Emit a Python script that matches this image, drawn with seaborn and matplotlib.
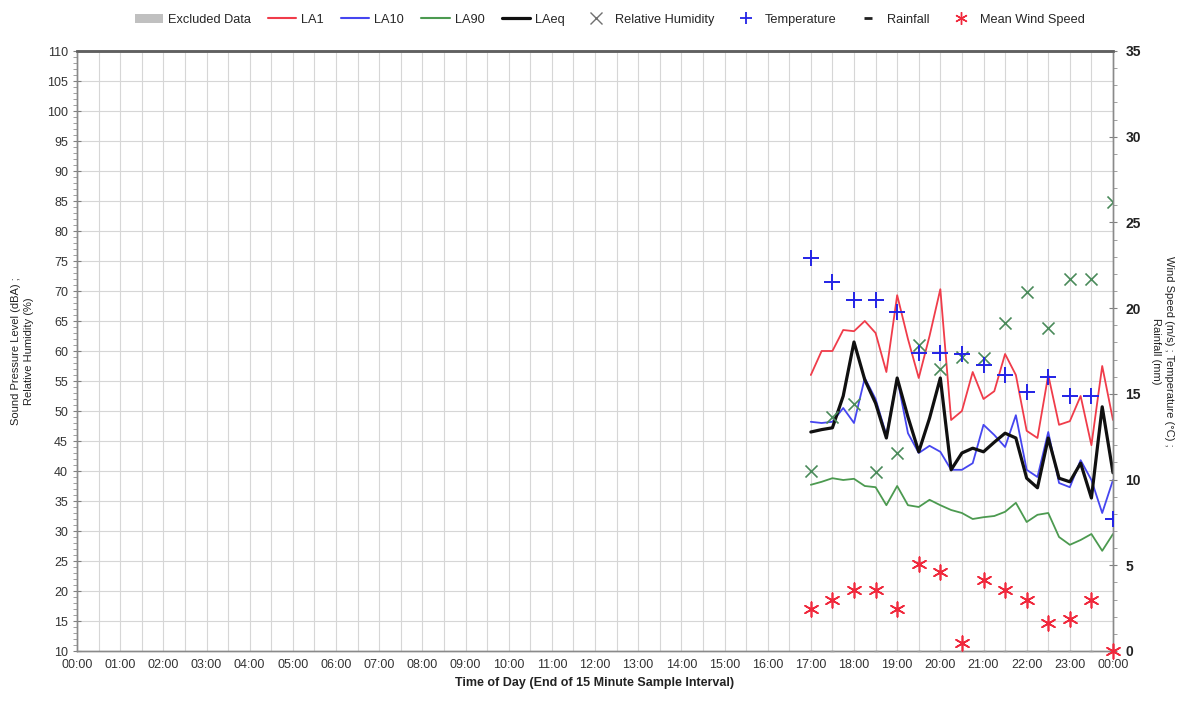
import numpy as np
import pandas as pd
import matplotlib
matplotlib.use("Agg")
import matplotlib.pyplot as plt
import seaborn as sns
from matplotlib.lines import Line2D
from matplotlib.patches import Patch
from matplotlib.ticker import MultipleLocator, FixedLocator

# ---------------- data ----------------
# 15-minute interval end times (hours), 17:00 -> 24:00
time_15 = [17 + 0.25 * i for i in range(29)]
la1 = [56, 60, 60, 63.5, 63.3, 65, 63, 56.5, 69.3, 62, 55.5, 62.5, 70.3, 48.5, 50,
       56.5, 52, 53.3, 59.5, 56, 46.7, 45.5, 56, 47.7, 48.3, 52.5, 44.3, 57.5, 48.5]
la10 = [48.2, 48, 48.2, 50.5, 48, 55.5, 52, 46, 55.5, 46.3, 43, 44.2, 43.2, 40.2, 40.2,
        41.3, 47.7, 46, 44, 49.3, 40.2, 39, 46.5, 38, 37.3, 41.8, 38.5, 33, 38.5]
la90 = [37.7, 38.2, 38.8, 38.5, 38.7, 37.5, 37.3, 34.3, 37.5, 34.3, 34, 35.2, 34.3, 33.5, 33,
        32, 32.3, 32.5, 33.2, 34.7, 31.5, 32.7, 33, 29, 27.7, 28.5, 29.5, 26.7, 29.5]
laeq = [46.5, 46.9, 47.2, 52.5, 61.5, 55.2, 51.3, 45.5, 55.5, 49, 43.2, 48.8, 55.5, 40.2, 43,
        43.8, 43.2, 44.8, 46.3, 45.5, 38.8, 37.2, 45.5, 38.8, 38.2, 41.3, 35.5, 50.7, 39.7]

# 30-minute weather observations
time_30 = [17 + 0.5 * i for i in range(15)]
rel_humidity = [40, 49, 51.2, 39.8, 43, 61, 57, 59, 58.8, 64.7, 69.8, 63.8, 72, 72, 84.8]
temperature = [22.9, 21.5, 20.5, 20.5, 19.8, 17.4, 17.4, 17.3, 16.7, 16.1, 15.1, 16.0, 14.9, 14.9, 7.7]
rainfall = [0] * 15
wind_speed = [2.45, 3.0, 3.56, 3.56, 2.45, 5.1, 4.6, 0.47, 4.14, 3.56, 3.0, 1.63, 1.87, 3.0, 0.0]

hour_labels = [f"{h % 24:02d}:00" for h in range(25)]

noise = pd.DataFrame({"t": time_15, "LA1": la1, "LA10": la10, "LA90": la90, "LAeq": laeq})
weather = pd.DataFrame({"t": time_30, "RH": rel_humidity, "Temp": temperature,
                        "Rain": rainfall, "Wind": wind_speed})

# ---------------- style ----------------
sns.set_theme(style="white")
plt.rcParams["font.family"] = ["Liberation Sans", "DejaVu Sans"]

c_la1 = "#f03c4a"
c_la10 = "#4646f0"
c_la90 = "#4c9a50"
c_laeq = "#101010"
c_rh = "#4a8a5a"
c_temp = "#2323e6"
c_wind = "#f0283c"
grid_c = "#d6d6d6"

fig = plt.figure(figsize=(11.89, 7.11), dpi=100)
ax = fig.add_axes([77 / 1189, 1 - 651 / 711, (1113 - 77) / 1189, 600 / 711])
ax2 = ax.twinx()

# noise lines
sns.lineplot(data=noise, x="t", y="LA1", ax=ax, color=c_la1, lw=1.3)
sns.lineplot(data=noise, x="t", y="LA10", ax=ax, color=c_la10, lw=1.3)
sns.lineplot(data=noise, x="t", y="LA90", ax=ax, color=c_la90, lw=1.3)
sns.lineplot(data=noise, x="t", y="LAeq", ax=ax, color=c_laeq, lw=2.3)
sns.scatterplot(data=weather, x="t", y="RH", ax=ax, marker="x", color=c_rh, s=75,
                linewidth=1.2, zorder=5)

# right axis weather
sns.scatterplot(data=weather, x="t", y="Temp", ax=ax2, marker="+", color=c_temp, s=130,
                linewidth=1.4, zorder=5)
sns.scatterplot(data=weather, x="t", y="Rain", ax=ax2, marker="_", color="#9a9a9a", s=12,
                linewidth=1.0, zorder=4, clip_on=False)
sns.scatterplot(data=weather, x="t", y="Wind", ax=ax2, marker=(6, 2, 0), color=c_wind, s=110,
                linewidth=1.2, zorder=5, clip_on=False)

# axes limits & ticks
ax.set_xlim(0, 24)
ax.set_ylim(10, 110)
ax2.set_ylim(0, 35)
ax.xaxis.set_major_locator(FixedLocator(list(range(25))))
ax.set_xticklabels(hour_labels)
ax.xaxis.set_minor_locator(MultipleLocator(0.25))
ax.yaxis.set_major_locator(MultipleLocator(5))
ax.yaxis.set_minor_locator(MultipleLocator(1))
ax2.yaxis.set_major_locator(MultipleLocator(5))
ax2.yaxis.set_minor_locator(MultipleLocator(1))

# grid
for x in np.arange(0.5, 24, 0.5):
    ax.axvline(x, color=grid_c, lw=0.8, zorder=0)
for y in range(15, 110, 5):
    ax.axhline(y, color=grid_c, lw=0.8, zorder=0)
ax.set_axisbelow(True)

ax.tick_params(axis="both", which="major", direction="inout", length=6, width=0.8,
               color="#808080", labelsize=9, labelcolor="#333333")
ax.tick_params(axis="both", which="minor", direction="out", length=3, width=0.6, color="#909090")
ax.tick_params(axis="x", pad=3)
ax2.tick_params(axis="y", which="major", direction="inout", length=6, width=0.8,
                color="#808080", labelsize=10, labelcolor="#222222", pad=6)
ax2.tick_params(axis="y", which="minor", direction="out", length=3, width=0.6, color="#909090")
for lbl in ax2.get_yticklabels():
    lbl.set_fontweight("bold")

for a in (ax, ax2):
    for side in ("left", "right", "bottom"):
        a.spines[side].set_color("#8a8a8a")
        a.spines[side].set_linewidth(1.0)
    a.spines["top"].set_color("#606060")
    a.spines["top"].set_linewidth(1.8)

ax.set_xlabel("Time of Day (End of 15 Minute Sample Interval)", fontsize=9,
              fontweight="bold", color="#222222", labelpad=4)
ax.set_ylabel("Sound Pressure Level (dBA) ;\nRelative Humidity (%)", fontsize=8,
              color="#222222", labelpad=9, linespacing=1.4)
ax2.set_ylabel("Wind Speed (m/s) ; Temperature (°C) ;\nRainfall (mm)", fontsize=8,
               color="#222222", rotation=270, labelpad=24, linespacing=1.4)

# legend
handles = [
    Patch(facecolor="#c0c0c0", edgecolor="none", label="Excluded Data"),
    Line2D([], [], color=c_la1, lw=1.5, label="LA1"),
    Line2D([], [], color=c_la10, lw=1.5, label="LA10"),
    Line2D([], [], color=c_la90, lw=1.5, label="LA90"),
    Line2D([], [], color=c_laeq, lw=2.3, label="LAeq"),
    Line2D([], [], color="#707070", marker="x", ls="none", ms=8, label="Relative Humidity"),
    Line2D([], [], color=c_temp, marker="+", ls="none", ms=9, mew=1.3, label="Temperature"),
    Line2D([], [], color="#202020", marker="_", ls="none", ms=6, mew=2, label="Rainfall"),
    Line2D([], [], color=c_wind, marker=(6, 2, 0), ls="none", ms=9, label="Mean Wind Speed"),
]
fig.legend(handles=handles, loc="center", bbox_to_anchor=(0.513, 0.972), ncol=9,
           frameon=False, fontsize=9.2, handlelength=2.2, handletextpad=0.4,
           columnspacing=1.35)

fig.savefig("out.png", dpi=100)
